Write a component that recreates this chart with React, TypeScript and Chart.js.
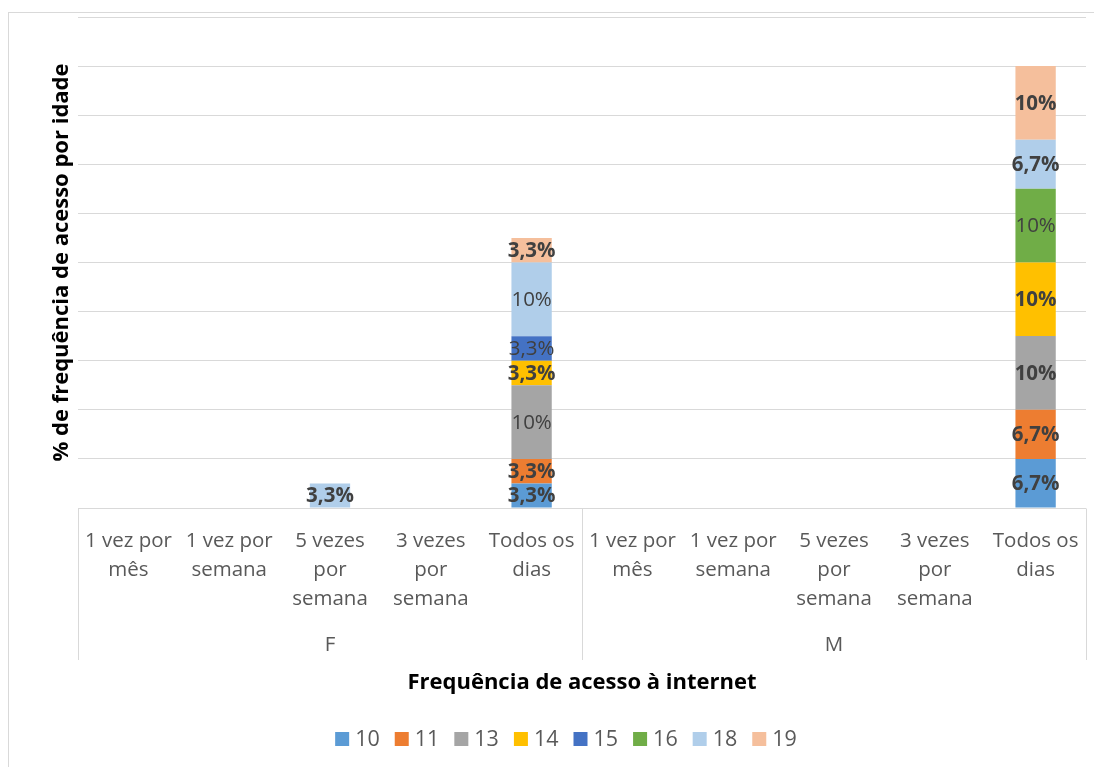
import React, { useEffect, useRef } from "react";
import { Chart, registerables } from "chart.js";

Chart.register(...registerables);

// ---- data ----
const groups = ["F", "M"];
const frequencies: string[][] = [
  ["1 vez por", "mês"],
  ["1 vez por", "semana"],
  ["5 vezes", "por", "semana"],
  ["3 vezes", "por", "semana"],
  ["Todos os", "dias"],
];
const categories = groups.flatMap((g) => frequencies.map((f) => `${g} – ${f.join(" ")}`));
const categoryLines = groups.flatMap(() => frequencies);

const ages = ["10", "11", "13", "14", "15", "16", "18", "19"];
const age10 = [null, null, null, null, 3.33, null, null, null, null, 6.67];
const age11 = [null, null, null, null, 3.33, null, null, null, null, 6.67];
const age13 = [null, null, null, null, 10, null, null, null, null, 10];
const age14 = [null, null, null, null, 3.33, null, null, null, null, 10];
const age15 = [null, null, null, null, 3.33, null, null, null, null, null];
const age16 = [null, null, null, null, null, null, null, null, null, 10];
const age18 = [null, null, 3.33, null, 10, null, null, null, null, 6.67];
const age19 = [null, null, null, null, 3.33, null, null, null, null, 10];
const seriesValues = [age10, age11, age13, age14, age15, age16, age18, age19];

const yMax = 66.67;
const yTickCount = 11;

const xTitle = "Frequência de acesso à internet";
const yTitle = "% de frequência de acesso por idade";

// ---- styles ----
const colors = ["#5B9BD5", "#ED7D31", "#A5A5A5", "#FFC000", "#4472C4", "#70AD47", "#B0CEEA", "#F5BF9C"];
const normalWeightLabels: [string, number][] = [["13", 4], ["15", 4], ["18", 4], ["16", 9]];
const FONT = "'Open Sans', 'DejaVu Sans', sans-serif";

function fmt(v: number) {
  const r = Math.round(v * 10) / 10;
  return Number.isInteger(r) ? `${r}%` : `${r.toFixed(1).replace(".", ",")}%`;
}

const decorPlugin = {
  id: "decor",
  beforeDraw(chart: any) {
    const ctx = chart.ctx;
    ctx.save();
    ctx.strokeStyle = "#D9D9D9";
    ctx.lineWidth = 1;
    ctx.strokeRect(8.5, 12.5, 2000, 2000);
    ctx.restore();
  },
  afterDatasetsDraw(chart: any) {
    const ctx = chart.ctx;
    const area = chart.chartArea;
    const xs = chart.scales.x;
    ctx.save();
    // data labels
    chart.data.datasets.forEach((ds: any, di: number) => {
      const meta = chart.getDatasetMeta(di);
      meta.data.forEach((el: any, i: number) => {
        const v = ds.data[i];
        if (v == null) return;
        const normal = normalWeightLabels.some(([s, c]) => s === ds.label && c === i);
        ctx.font = `${normal ? "normal" : "bold"} 20.5px ${FONT}`;
        ctx.fillStyle = "#404040";
        ctx.textAlign = "center";
        ctx.textBaseline = "middle";
        ctx.fillText(fmt(v), el.x, (el.y + el.base) / 2 + 1);
      });
    });

    // axis box
    ctx.strokeStyle = "#D9D9D9";
    ctx.lineWidth = 1;
    const yb = Math.round(area.bottom) + 0.5;
    ctx.beginPath();
    ctx.moveTo(area.left, yb);
    ctx.lineTo(area.right, yb);
    const mid = (area.left + area.right) / 2;
    [area.left, mid, area.right].forEach((x) => {
      const xx = Math.round(x) + 0.5;
      ctx.moveTo(xx, yb);
      ctx.lineTo(xx, 660);
    });
    ctx.stroke();

    // tick labels
    ctx.fillStyle = "#595959";
    ctx.font = `20.5px ${FONT}`;
    ctx.textAlign = "center";
    ctx.textBaseline = "middle";
    categoryLines.forEach((lines, i) => {
      const x = xs.getPixelForValue(i);
      lines.forEach((ln, j) => ctx.fillText(ln, x, 541 + j * 29));
    });
    // group labels
    groups.forEach((g, gi) => {
      const a = xs.getPixelForValue(gi * frequencies.length);
      const b = xs.getPixelForValue(gi * frequencies.length + frequencies.length - 1);
      ctx.fillText(g, (a + b) / 2, 645);
    });

    // x title
    ctx.fillStyle = "#000000";
    ctx.font = `bold 22px ${FONT}`;
    ctx.fillText(xTitle, (area.left + area.right) / 2, 683);

    // y title
    ctx.save();
    ctx.translate(62, (area.top + area.bottom) / 2);
    ctx.rotate(-Math.PI / 2);
    ctx.fillText(yTitle, 0, 0);
    ctx.restore();

    // legend
    ctx.font = `21.5px ${FONT}`;
    ctx.textAlign = "left";
    const items = chart.data.datasets.map((d: any) => d.label);
    const box = 14;
    const gapBoxText = 6;
    const gapItems = 15;
    const widths = items.map((t: string) => box + gapBoxText + ctx.measureText(t).width);
    const total = widths.reduce((a: number, b: number) => a + b, 0) + gapItems * (items.length - 1);
    let x = 566 - total / 2;
    const ly = 739;
    items.forEach((t: string, i: number) => {
      ctx.fillStyle = chart.data.datasets[i].backgroundColor;
      ctx.fillRect(x, ly - box / 2, box, box);
      ctx.fillStyle = "#595959";
      ctx.fillText(t, x + box + gapBoxText, ly + 1);
      x += widths[i] + gapItems;
    });
    ctx.restore();
  },
};

export default function App() {
  const ref = useRef<HTMLCanvasElement | null>(null);
  useEffect(() => {
    if (!ref.current) return;
    const chart = new Chart(ref.current, {
      type: "bar",
      data: {
        labels: categories,
        datasets: ages.map((a, i) => ({
          label: a,
          data: seriesValues[i] as any,
          backgroundColor: colors[i],
          borderWidth: 0,
          barPercentage: 0.4,
          categoryPercentage: 1,
        })),
      },
      options: {
        responsive: false,
        animation: false,
        layout: { padding: { left: 78, right: 8, top: 17, bottom: 259 } },
        plugins: { legend: { display: false }, tooltip: { enabled: false }, title: { display: false } },
        scales: {
          x: { stacked: true, display: false },
          y: {
            stacked: true,
            min: 0,
            max: yMax,
            ticks: { display: false, count: yTickCount },
            grid: { color: "#D9D9D9", drawTicks: false, lineWidth: 1 },
            border: { display: false },
          },
        },
      },
      plugins: [decorPlugin],
    });
    return () => chart.destroy();
  }, []);
  return (
    <div style={{ position: "fixed", left: 0, top: 0, width: 1094, height: 767, background: "#fff" }}>
      <canvas ref={ref} width={1094} height={767} style={{ display: "block" }} />
    </div>
  );
}
